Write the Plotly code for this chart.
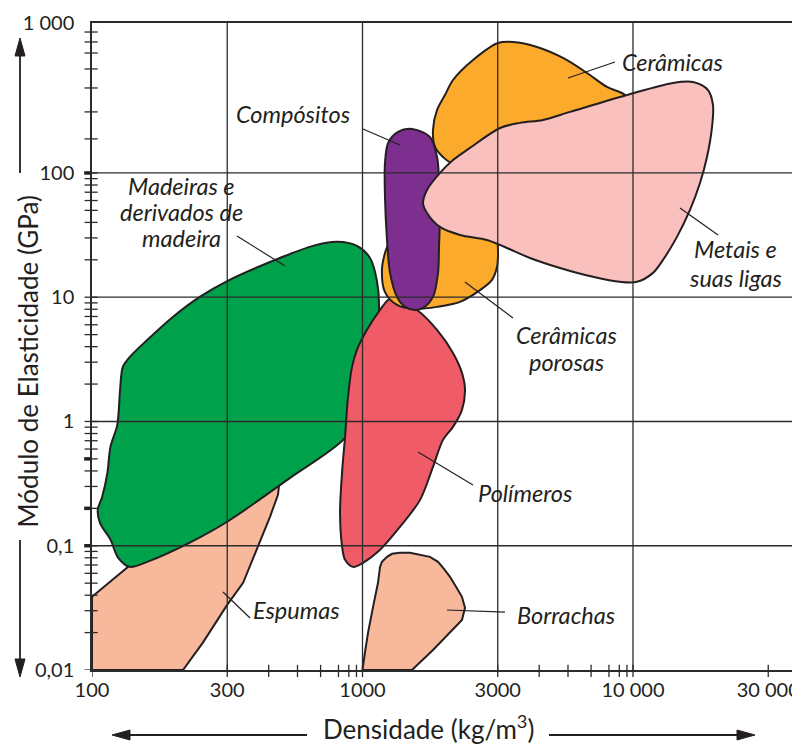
import plotly.graph_objects as go

# ---------------- data: material regions (density kg/m3, Young's modulus GPa) ----------------
espumas_densidade = [100, 217, 257, 316, 362, 407, 455, 487, 495, 418, 164, 136, 110, 100]
espumas_modulo = [0.0100, 0.0100, 0.0166, 0.0334, 0.0503, 0.0927, 0.171, 0.257, 0.352, 0.408,
                  0.112, 0.0676, 0.0459, 0.0388]

borrachas_densidade = [1000, 1524, 1822, 2106, 2332, 2393, 2332, 2217, 2106, 2001, 1902, 1776,
                       1632, 1498, 1376, 1285, 1232, 1180, 1161, 1151, 1141, 1094, 1048, 1021]
borrachas_modulo = [0.0100, 0.0100, 0.0145, 0.0199, 0.0253, 0.0317, 0.0388, 0.0467, 0.0562, 0.0652,
                    0.0742, 0.0814, 0.0845, 0.0877, 0.0877, 0.0861, 0.0814, 0.0742, 0.0676, 0.0583,
                    0.0503, 0.0322, 0.0199, 0.0138]

madeiras_densidade = [316, 495, 656, 805, 954, 1066, 1131, 1151, 1084, 979, 862, 540, 316, 230, 160,
                      138, 125, 117, 107, 105, 109, 114, 117, 124, 127, 130, 138, 160, 199, 251]
madeiras_modulo = [13.5, 20.7, 25.9, 27.9, 25.9, 20.7, 13.5, 7.90, 2.60, 1.24, 0.738, 0.352, 0.156,
                   0.106, 0.0742, 0.0676, 0.0799, 0.112, 0.153, 0.194, 0.247, 0.386, 0.625, 0.939,
                   1.80, 2.75, 3.31, 4.53, 6.94, 10.1]

polimeros_densidade = [1297, 1591, 1886, 2161, 2332, 2393, 2332, 2161, 1984, 1822, 1632, 1376, 1161,
                       1004, 922, 862, 840, 826, 840, 862, 884, 915, 954, 1039, 1161, 1243]
polimeros_modulo = [9.87, 7.90, 5.46, 3.56, 2.46, 1.80, 1.24, 0.905, 0.711, 0.431, 0.234, 0.142,
                    0.0927, 0.0729, 0.0676, 0.0770, 0.0999, 0.184, 0.386, 0.752, 1.58, 2.75, 3.77,
                    5.46, 7.90, 9.51]

porosas_densidade = [3170, 3170, 3142, 3011, 2719, 2293, 1886, 1564, 1341, 1211, 1180, 1211, 1264,
                     1376, 1934, 2960, 3224]
porosas_modulo = [27.3, 21.9, 17.5, 13.8, 11.4, 9.17, 8.36, 8.05, 8.67, 11.0, 16.6, 22.7, 28.9,
                  45.9, 66.5, 45.9, 30.0]

ceramicas_densidade = [1822, 1886, 2018, 2161, 2562, 3170, 3601, 4417, 5510, 6761, 8015, 9342,
                       10172, 7551, 3822, 2497, 2142, 1984, 1854]
ceramicas_modulo = [222, 321, 424, 560, 811, 1111, 1132, 1032, 842, 637, 492, 424, 321, 267, 184,
                    127, 120, 134.5, 162]

compositos_densidade = [1524, 1776, 1886, 1918, 1934, 1918, 1902, 1822, 1674, 1564, 1436, 1341,
                        1264, 1232, 1211, 1211, 1243, 1353]
compositos_modulo = [226, 195, 134.5, 87.8, 47.7, 25.4, 15.7, 10.06, 8.20, 7.90, 8.36, 10.06, 15.7,
                     28.9, 64.1, 120, 174, 214]

metais_densidade = [1674, 1732, 1934, 2161, 2497, 3224, 3822, 4648, 5850, 9502, 14055, 16664,
                    18936, 19758, 19594, 18776, 17688, 16245, 14542, 12909, 11858, 10347, 8952,
                    7114, 5372, 4161, 3421, 2886, 2293, 1934, 1732]
metais_modulo = [57.4, 73.0, 100, 127, 159, 230, 253, 267, 310, 424, 530, 540, 465, 352, 234, 134.5,
                 83.1, 50.4, 30.6, 19.96, 15.7, 13.3, 13.3, 14.6, 17.2, 20.7, 24.9, 28.9, 31.7,
                 36.8, 47.7]

# ---------------- axes: tick values and labels ----------------
X_RANGE_LOG = [2.0, 4.6174]
Y_RANGE_LOG = [-2.0, 3.2068]
x_tick_vals = [100, 316.2, 1000, 3162, 10000, 31623]
x_tick_text = ["100", "300", "1000", "3000", "10 000", "30 000"]
x_minor_ticks = [450, 575, 700, 815, 890, 950, 4500, 5750, 7000, 8150, 8900, 9500]
x_grid = [316.2, 1000, 3162, 10000]

y_tick_vals = [0.01, 0.1, 1, 10, 100, 1609]
y_tick_text = ["0,01", "0,1", "1", "10", "100", "1 000"]
y_minor_ticks = [m * d for d in (0.01, 0.1, 1, 10) for m in range(2, 10)] + \
                [188, 310, 483, 687, 923, 1133, 1362]
y_bold_ticks = [100, 0.5, 0.2, 0.1]
y_grid = [0.1, 1, 10, 100]

INK = "#231F20"
GRID = "#2b2b2b"
FONT = "Lato"

regions = [
    (espumas_densidade, espumas_modulo, "#F8B89B", "linear"),
    (borrachas_densidade, borrachas_modulo, "#F8B89B", "linear"),
    (madeiras_densidade, madeiras_modulo, "#00A14B", "spline"),
    (polimeros_densidade, polimeros_modulo, "#EF5B67", "spline"),
    (porosas_densidade, porosas_modulo, "#FBAA2C", "spline"),
    (ceramicas_densidade, ceramicas_modulo, "#FBAA2C", "spline"),
    (compositos_densidade, compositos_modulo, "#7C2F8E", "spline"),
    (metais_densidade, metais_modulo, "#F9C0BE", "spline"),
]

fig = go.Figure()
for xs, ys, color, shape in regions:
    fig.add_trace(go.Scatter(
        x=xs + [xs[0]], y=ys + [ys[0]], mode="lines", fill="toself", fillcolor=color,
        line=dict(color=INK, width=2, shape=shape, smoothing=0.9),
        hoverinfo="skip", showlegend=False))

shapes = []
for v in x_grid:
    shapes.append(dict(type="line", xref="x", yref="paper", x0=v, x1=v, y0=0, y1=1,
                       layer="above", line=dict(color=GRID, width=1.3)))
for v in y_grid:
    shapes.append(dict(type="line", xref="paper", yref="y", x0=0, x1=1, y0=v, y1=v,
                       layer="above", line=dict(color=GRID, width=1.3)))
for v in x_tick_vals + x_minor_ticks:
    shapes.append(dict(type="line", xref="x", yref="paper", x0=v, x1=v, y0=-0.011, y1=0.008,
                       layer="above", line=dict(color=GRID, width=1.3)))
for v in y_tick_vals[:-1] + y_minor_ticks:
    shapes.append(dict(type="line", xref="paper", yref="y", x0=-0.0105, x1=0.008, y0=v, y1=v,
                       layer="above", line=dict(color=GRID, width=1.3)))
for v in y_bold_ticks:
    shapes.append(dict(type="line", xref="paper", yref="y", x0=-0.011, x1=-0.002, y0=v, y1=v,
                       layer="above", line=dict(color=INK, width=3.5)))

# leader lines (paper coordinates)
leaders = [
    (0.6723, 0.915, 0.7387, 0.9397),
    (0.3828, 0.8362, 0.435, 0.8114),
    (0.2048, 0.6708, 0.2726, 0.6244),
    (0.8305, 0.7141, 0.8842, 0.6723),
    (0.5268, 0.5997, 0.5946, 0.544),
    (0.4605, 0.3369, 0.5381, 0.2859),
    (0.185, 0.1206, 0.2232, 0.0804),
    (0.5014, 0.0927, 0.5833, 0.0896),
]
for x0, y0, x1, y1 in leaders:
    shapes.append(dict(type="line", xref="paper", yref="paper", x0=x0, y0=y0, x1=x1, y1=y1,
                       layer="above", line=dict(color=INK, width=1.2)))

# axis arrows (lines + triangular heads, paper coordinates)
arrow_lines = [
    (-0.10169, 0.94900, -0.10169, 0.76816),
    (-0.10169, 0.20093, -0.10169, 0.01700),
    (0.05367, -0.10046, 0.30367, -0.10046),
    (0.91102, -0.10046, 0.64548, -0.10046),
]
for x0, y0, x1, y1 in arrow_lines:
    shapes.append(dict(type="line", xref="paper", yref="paper", x0=x0, y0=y0, x1=x1, y1=y1,
                       line=dict(color=INK, width=1.8)))
arrow_heads = [
    "M -0.10169,0.97682 L -0.10876,0.94900 L -0.09463,0.94900 Z",
    "M -0.10169,-0.01082 L -0.10876,0.01700 L -0.09463,0.01700 Z",
    "M 0.02825,-0.10046 L 0.05367,-0.09274 L 0.05367,-0.10819 Z",
    "M 0.93644,-0.10046 L 0.91102,-0.09274 L 0.91102,-0.10819 Z",
]
for p in arrow_heads:
    shapes.append(dict(type="path", xref="paper", yref="paper", path=p, fillcolor=INK,
                       line=dict(color=INK, width=1)))

labels = [
    ("Cerâmicas", 0.8206, 0.9397),
    ("Compósitos", 0.2839, 0.8594),
    ("Madeiras e", 0.1271, 0.7481),
    ("derivados de", 0.1271, 0.7079),
    ("madeira", 0.1271, 0.6677),
    ("Metais e", 0.9096, 0.6507),
    ("suas ligas", 0.9096, 0.6059),
    ("Cerâmicas", 0.6709, 0.5178),
    ("porosas", 0.6709, 0.4760),
    ("Polímeros", 0.6116, 0.2736),
    ("Espumas", 0.2895, 0.0927),
    ("Borrachas", 0.6695, 0.085),
]
annotations = []
for text, x, y in labels:
    annotations.append(dict(text="<i>" + text + "</i>", x=x, y=y, xref="paper", yref="paper",
                            showarrow=False, xanchor="center", yanchor="middle",
                            font=dict(family=FONT, size=23.5, color=INK)))

annotations.append(dict(text="Módulo de Elasticidade (GPa)", x=-0.0904, y=0.477, xref="paper",
                        yref="paper", showarrow=False, textangle=-90, xanchor="center",
                        yanchor="middle", font=dict(family=FONT, size=26, color=INK)))
annotations.append(dict(text="Densidade (kg/m<sup>3</sup>)", x=0.4746, y=-0.0885, xref="paper",
                        yref="paper", showarrow=False, xanchor="center", yanchor="middle",
                        font=dict(family=FONT, size=26, color=INK)))

# page body adds an 8 px offset; margins place the plot area at x 92-800, y 23-670 on the page
fig.update_layout(
    width=800, height=746, margin=dict(l=84, r=8, t=15, b=84, autoexpand=False),
    paper_bgcolor="white", plot_bgcolor="white",
    shapes=shapes, annotations=annotations, showlegend=False,
    xaxis=dict(type="log", range=X_RANGE_LOG, automargin=False,
               tickvals=x_tick_vals, ticktext=x_tick_text, ticks="", ticklabelstandoff=1,
               tickfont=dict(family=FONT, size=20, color=INK), showgrid=False, zeroline=False,
               showline=True, linecolor=GRID, linewidth=1.5, mirror=True),
    yaxis=dict(type="log", range=Y_RANGE_LOG, automargin=False,
               tickvals=y_tick_vals, ticktext=y_tick_text, ticks="", ticklabelstandoff=12,
               tickfont=dict(family=FONT, size=20, color=INK), showgrid=False, zeroline=False,
               showline=True, linecolor=GRID, linewidth=1.5, mirror=False),
)

fig.write_html("out.html")
